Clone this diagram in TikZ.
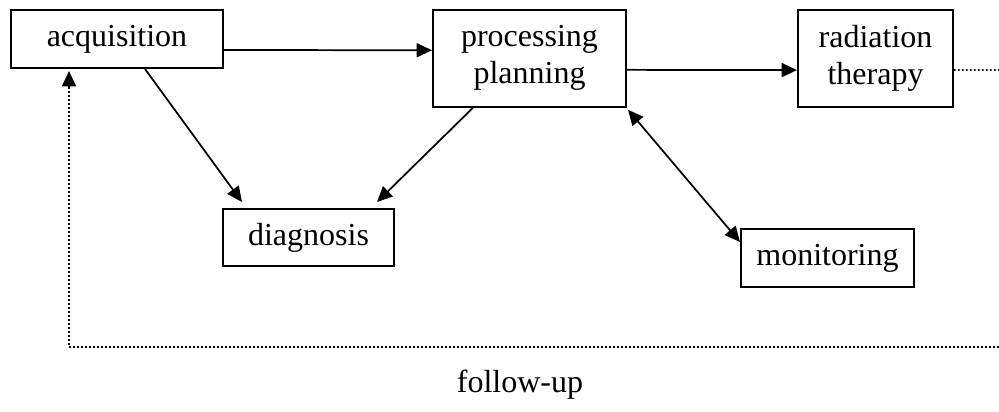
\documentclass[tikz,border=0pt]{standalone}
\usepackage{fontspec}
\setmainfont{Liberation Serif}
\usetikzlibrary{arrows.meta}
\begin{document}
\begin{tikzpicture}[x=0.75pt,y=-0.75pt,
  box/.style={draw,line width=1.5pt,inner sep=0pt,align=center,
    font=\fontsize{24}{27.6}\selectfont},
  tip/.style={-{Triangle[length=11.5pt,width=10.5pt]}},
  link/.style={line width=1.3pt,tip},
  twoway/.style={line width=1.3pt,{Triangle[length=11.5pt,width=10.5pt]}-{Triangle[length=11.5pt,width=10.5pt]}},
  loop/.style={line width=1.3pt,dash pattern=on 1.2pt off 1.8pt},
  label/.style={font=\fontsize{24}{27.6}\selectfont}]
\useasboundingbox (0,0) rectangle (999,411);

% stages
\node[box,minimum width=159pt,minimum height=43.5pt] (acq) at (117,39) {acquisition};
\node[box,minimum width=144.75pt,minimum height=72.75pt] (proc) at (529.5,58.25) {processing\\planning};
\node[box,minimum width=116.25pt,minimum height=72.75pt] (rad) at (875.5,58.5) {radiation\\therapy};
\node[box,minimum width=128.25pt,minimum height=42.75pt] (diag) at (308.5,237.5) {diagnosis};
\node[box,minimum width=129.75pt,minimum height=43.5pt] (mon) at (827.5,258) {monitoring};

% main flow
\draw[link] ([yshift=-8.25pt]acq.east) -- ([yshift=6pt]proc.west);
\draw[link] ([yshift=-8.7pt]proc.east) -- ([yshift=-8.7pt]rad.west);
\draw[link] ([xshift=21pt]acq.south) -- ([xshift=-49.9pt,yshift=4.5pt]diag.north);
\draw[link] ([xshift=-42.4pt]proc.south) -- ([xshift=51.4pt,yshift=4.5pt]diag.north);
\draw[twoway] ([xshift=0.75pt,yshift=-1.5pt]proc.south east) -- ([yshift=12pt]mon.west);

% follow-up loop, running past the right edge and back
\coordinate (edgeR) at (999,70);
\coordinate (edgeB) at (999,347);
\coordinate (corner) at (69,347);
\coordinate (loopend) at ([xshift=-36pt,yshift=-13pt]acq.south);
\draw[loop] ([yshift=-8.7pt]rad.east) -- (edgeR);
\draw[loop] (edgeB) -- (corner) -- (loopend);
\draw[line width=1.3pt,tip] (loopend) -- ([xshift=-36pt,yshift=-1.5pt]acq.south);

\node[label] (fu) at (520,385) {follow-up};
\end{tikzpicture}
\end{document}
